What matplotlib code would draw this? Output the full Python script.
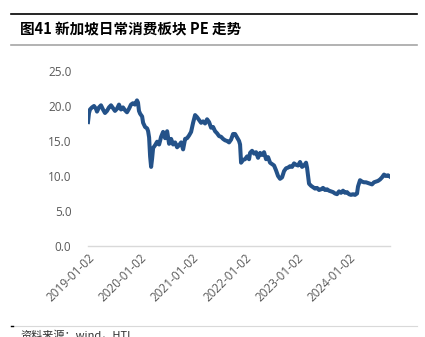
import matplotlib
matplotlib.use('Agg')
import matplotlib.pyplot as plt
import pandas as pd

plt.rcParams['font.family'] = ['Noto Sans CJK SC', 'DejaVu Sans']

title = '图41 新加坡日常消费板块 PE 走势'
source = '资料来源：wind，HTI'

dates = [
    '2019-01-02', '2019-01-09', '2019-01-16', '2019-01-30', '2019-02-13', '2019-02-27',
    '2019-03-06', '2019-03-20', '2019-04-03', '2019-04-17', '2019-05-01', '2019-05-15',
    '2019-05-29', '2019-06-12', '2019-06-26', '2019-07-10', '2019-07-24', '2019-08-07',
    '2019-08-21', '2019-09-04', '2019-09-18', '2019-10-02', '2019-10-16', '2019-10-30',
    '2019-11-13', '2019-11-27', '2019-12-11', '2019-12-18', '2019-12-25', '2020-01-02',
    '2020-01-16', '2020-01-23', '2020-02-06', '2020-02-20', '2020-02-27', '2020-03-05',
    '2020-03-12', '2020-03-19', '2020-03-26', '2020-04-02', '2020-04-16', '2020-04-30',
    '2020-05-14', '2020-05-28', '2020-06-11', '2020-06-25', '2020-07-09', '2020-07-23',
    '2020-08-06', '2020-08-20', '2020-09-03', '2020-09-17', '2020-10-01', '2020-10-15',
    '2020-10-29', '2020-11-12', '2020-11-26', '2020-12-10', '2020-12-24', '2021-01-07',
    '2021-01-21', '2021-02-04', '2021-02-18', '2021-03-04', '2021-03-18', '2021-04-01',
    '2021-04-15', '2021-04-29', '2021-05-13', '2021-05-27', '2021-06-10', '2021-06-24',
    '2021-07-08', '2021-07-22', '2021-08-05', '2021-08-19', '2021-09-02', '2021-09-16',
    '2021-09-30', '2021-10-14', '2021-10-28', '2021-11-11', '2021-11-25', '2021-12-02',
    '2021-12-09', '2021-12-23', '2022-01-06', '2022-01-20', '2022-02-03', '2022-02-10',
    '2022-02-24', '2022-03-10', '2022-03-24', '2022-04-07', '2022-04-21', '2022-05-05',
    '2022-05-19', '2022-06-02', '2022-06-16', '2022-06-30', '2022-07-14', '2022-07-28',
    '2022-08-11', '2022-08-25', '2022-09-08', '2022-09-22', '2022-10-06', '2022-10-20',
    '2022-11-03', '2022-11-17', '2022-12-01', '2022-12-15', '2022-12-29', '2023-01-12',
    '2023-01-26', '2023-02-09', '2023-02-23', '2023-03-09', '2023-03-16', '2023-03-30',
    '2023-04-13', '2023-04-27', '2023-05-11', '2023-05-25', '2023-06-08', '2023-06-22',
    '2023-07-06', '2023-07-20', '2023-08-03', '2023-08-17', '2023-08-31', '2023-09-14',
    '2023-09-28', '2023-10-12', '2023-10-26', '2023-11-09', '2023-11-23', '2023-12-07',
    '2023-12-21', '2024-01-04', '2024-01-18', '2024-02-01', '2024-02-15', '2024-02-29',
    '2024-03-07', '2024-03-21', '2024-04-04', '2024-04-18', '2024-05-02', '2024-05-16',
    '2024-05-30', '2024-06-13', '2024-06-27', '2024-07-11', '2024-07-25', '2024-08-08',
    '2024-08-22', '2024-09-05', '2024-09-19', '2024-10-03', '2024-10-17',
]

pe = [
    17.7, 19.0, 19.5, 19.8, 20.0, 19.6,
    19.2, 19.8, 20.1, 19.5, 19.0, 19.3,
    19.8, 20.1, 19.7, 19.3, 19.6, 20.2,
    19.5, 19.8, 19.4, 19.1, 19.6, 20.2,
    20.4, 20.2, 20.8, 20.5, 19.3, 18.9,
    18.5, 17.6, 17.0, 16.8, 16.4, 15.5,
    12.8, 11.3, 12.5, 14.0, 14.4, 14.9,
    14.5, 15.6, 16.3, 15.4, 16.4, 14.6,
    15.3, 14.5, 14.8, 14.1, 14.4, 14.8,
    13.8, 15.3, 15.4, 15.8, 16.3, 17.6,
    18.7, 18.4, 18.0, 17.6, 17.8, 17.5,
    18.1, 17.7, 16.9, 17.0, 16.4, 16.1,
    15.7, 15.6, 15.3, 15.1, 15.0, 14.8,
    15.2, 16.0, 16.0, 15.5, 15.0, 14.5,
    11.9, 12.3, 12.4, 12.8, 12.4, 13.3,
    13.6, 13.2, 13.4, 12.6, 13.3, 13.0,
    13.4, 12.4, 12.7, 11.9, 11.7, 11.5,
    10.8, 10.0, 9.6, 9.8, 10.7, 11.1,
    11.2, 11.4, 11.3, 11.8, 11.6, 11.5,
    12.0, 11.3, 11.5, 11.9, 11.2, 8.9,
    8.6, 8.4, 8.2, 8.3, 8.0, 8.1,
    8.3, 8.0, 8.1, 7.9, 7.8, 7.7,
    7.5, 7.4, 7.8, 7.6, 7.9, 7.6,
    7.7, 7.4, 7.3, 7.4, 7.3, 7.5,
    8.5, 9.4, 9.2, 9.1, 9.1, 9.0,
    8.9, 8.8, 9.1, 9.2, 9.3, 9.5,
    9.8, 10.2, 10.0, 10.1, 9.9,
]

tick_dates = ['2019-01-02', '2020-01-02', '2021-01-02', '2022-01-02', '2023-01-02', '2024-01-02']
yticks = [0, 5, 10, 15, 20, 25]

x = pd.to_datetime(dates)

fig = plt.figure(figsize=(4.25, 3.37), dpi=100)

# header / footer rules
fig.add_artist(plt.Line2D([11/425, 417/425], [1 - 14/337, 1 - 14/337], color='black', lw=1.2))
fig.add_artist(plt.Line2D([11/425, 417/425], [1 - 45/337, 1 - 45/337], color='#a6a6a6', lw=1.2))
fig.add_artist(plt.Line2D([11/425, 417/425], [1 - 326/337, 1 - 326/337], color='#d9d9d9', lw=0.8))
fig.add_artist(plt.Line2D([11/425, 13/425], [1 - 326/337, 1 - 326/337], color='black', lw=1))
fig.text(20/425, 1 - 29/337, title, fontsize=10.5, fontweight='bold', va='center', ha='left')
fig.text(20/425, 1 - 335/337, source, fontsize=8, va='center', ha='left', color='#333333')

ax = fig.add_axes([88/425, 91/337, (390 - 88)/425, (246 - 71)/337])
ax.plot(x, pe, color='#245289', lw=2.9, solid_joinstyle='round')

ax.set_xlim(x[0], x[-1])
ax.set_ylim(0, 25)
ax.set_yticks(yticks)
ax.set_yticklabels(['%.1f' % v for v in yticks])
ax.set_xticks(pd.to_datetime(tick_dates))
ax.set_xticklabels(tick_dates, rotation=45, ha='right', rotation_mode='anchor')

for s in ['top', 'right', 'left']:
    ax.spines[s].set_visible(False)
ax.spines['bottom'].set_color('#d9d9d9')
ax.spines['bottom'].set_linewidth(1)
ax.tick_params(axis='both', length=0, colors='#595959', labelsize=8.5)
ax.tick_params(axis='y', pad=12)
ax.tick_params(axis='x', pad=4)
for lbl in ax.get_xticklabels() + ax.get_yticklabels():
    lbl.set_family(['Open Sans', 'DejaVu Sans'])

fig.savefig('out.png', dpi=100)
